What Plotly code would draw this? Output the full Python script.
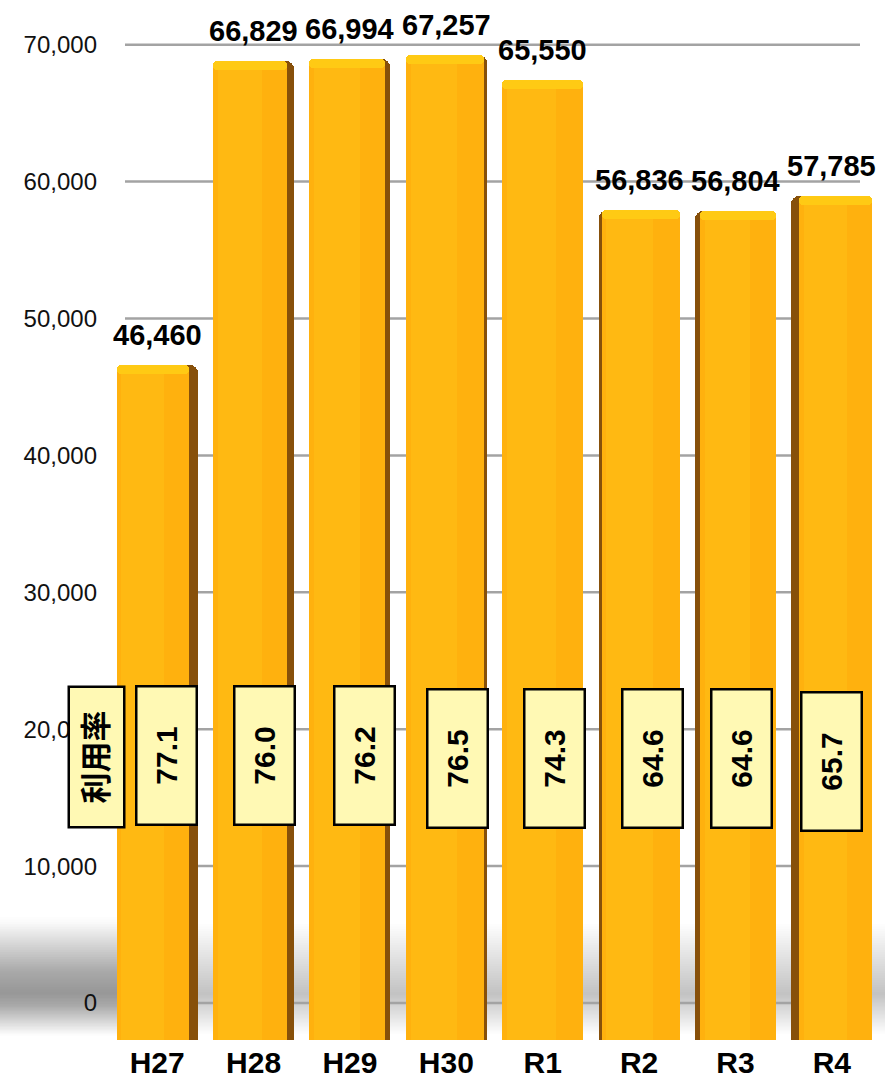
import plotly.graph_objects as go

# ---- data ----
years = ["H27", "H28", "H29", "H30", "R1", "R2", "R3", "R4"]
users = [46460, 66829, 66994, 67257, 65550, 56836, 56804, 57785]
rates = [77.1, 76.0, 76.2, 76.5, 74.3, 64.6, 64.6, 65.7]
rate_title = "利用率"
y_ticks = [0, 10000, 20000, 30000, 40000, 50000, 60000, 70000]

# ---- page geometry (px) ----
W, H = 885, 1078
ML, MR, MT, MB = 109, 5, 0, 38
PW, PH = W - ML - MR, H - MT - MB

def py_to_paper(py):
    return 1 - (py - MT) / PH

def px_to_paper(px):
    return (px - ML) / PW

# back wall (gridlines, tick labels): zero at 1003px, 136.9px per 10,000
wall_zero, wall_scale = 1003.0, 0.01369
wall_range = [-(PH - wall_zero) / wall_scale, wall_zero / wall_scale]
# front plane of the 3D columns: zero at 1057.5px, 149.06px per 10,000
bar_zero, bar_scale = 1057.5, 0.014906
bar_range = [(bar_zero - PH) / bar_scale, bar_zero / bar_scale]

FONT = "Liberation Sans, Arial, Noto Sans CJK JP, sans-serif"

# column look
FOOT = 0.84                                     # column footprint (category units)
side_px = [9, 7, 5, 3, 0, 3, 5, 8]              # visible side face width
side_on_right = [True, True, True, True, True, False, False, False]
side = [s / 96.4 for s in side_px]
face_off = [-FOOT / 2 if r else -FOOT / 2 + s for s, r in zip(side, side_on_right)]
face_w = [FOOT - s for s in side]
hl = 600                                        # depth of the bright top bevel

xs = list(range(len(years)))
fig = go.Figure()

# dark side face
fig.add_trace(go.Bar(
    x=xs, y=users, yaxis="y2", width=[FOOT] * len(xs), offset=[-FOOT / 2] * len(xs),
    marker=dict(color="#87500a", line=dict(width=0), cornerradius=8),
    hoverinfo="skip", showlegend=False))
# front face
fig.add_trace(go.Bar(
    x=xs, y=users, yaxis="y2", width=face_w, offset=face_off,
    marker=dict(color="#FFB10E", line=dict(width=0), cornerradius=8),
    hovertemplate="%{y:,}<extra></extra>", showlegend=False))
# soft sheen on the left part of the face
fig.add_trace(go.Bar(
    x=xs, y=[u - hl for u in users], yaxis="y2",
    width=[w * 0.6 for w in face_w], offset=[o + w * 0.06 for o, w in zip(face_off, face_w)],
    marker=dict(color="#FFB912", line=dict(width=0)),
    hoverinfo="skip", showlegend=False))
# bright top bevel
fig.add_trace(go.Bar(
    x=xs, y=[hl] * len(xs), base=[u - hl for u in users], yaxis="y2",
    width=face_w, offset=face_off,
    marker=dict(color="#FFCA14", line=dict(width=0), cornerradius=8),
    hoverinfo="skip", showlegend=False))

shapes = []

def haze(x0, x1, centre, up, down, layers, op):
    """Soft horizontal shadow band built from stacked translucent rectangles."""
    for k in range(layers):
        f = 1 - k / layers
        shapes.append(dict(
            type="rect", xref="paper", yref="paper", layer="below",
            x0=px_to_paper(x0), x1=px_to_paper(x1),
            y0=py_to_paper(centre + down * f), y1=py_to_paper(centre - up * f),
            fillcolor="#303030", opacity=op, line=dict(width=0)))

# floor shadow: light band across the floor, heavier on the far left
haze(0, W, 994, 70, 40, 30, 0.006)
haze(0, 118, 992, 75, 44, 30, 0.012)

# gridlines on the back wall
for t in y_ticks:
    shapes.append(dict(
        type="line", xref="paper", yref="y", layer="below",
        x0=px_to_paper(125), x1=px_to_paper(860), y0=t, y1=t,
        line=dict(color="#a3a3a3", width=2.5)))

annotations = []
# value labels above the columns
for i, u in enumerate(users):
    annotations.append(dict(
        x=i, y=u, xref="x", yref="y2", text=f"{u:,}", showarrow=False,
        xanchor="center", yanchor="bottom", yshift=12,
        font=dict(family=FONT, size=29, color="#000", weight="bold")))

# utilisation-rate boxes
box_cx = [166, 264, 364, 457, 554, 652, 741, 831]
box_cy = [756, 756, 756, 759, 759, 759, 759, 762]
for r, cx, cy in zip(rates, box_cx, box_cy):
    annotations.append(dict(
        x=px_to_paper(cx), y=py_to_paper(cy), xref="paper", yref="paper",
        xanchor="center", yanchor="middle",
        text=f"{r:.1f}", showarrow=False, textangle=-90,
        width=136, height=58, borderpad=0, borderwidth=2.5,
        bgcolor="#FFF9B4", bordercolor="#000",
        font=dict(family=FONT, size=30, color="#000", weight="bold")))
annotations.append(dict(
    x=px_to_paper(96.5), y=py_to_paper(757), xref="paper", yref="paper",
    xanchor="center", yanchor="middle",
    text=rate_title, showarrow=False, textangle=-90,
    width=138, height=53, borderpad=0, borderwidth=2.5,
    bgcolor="#FFF9B4", bordercolor="#000",
    font=dict(family=FONT, size=31, color="#000", weight="bold")))

fig.update_layout(
    width=W, height=H,
    margin=dict(l=ML, r=MR, t=MT, b=MB, pad=0, autoexpand=False),
    paper_bgcolor="#ffffff", plot_bgcolor="rgba(0,0,0,0)",
    barmode="overlay", bargap=0,
    showlegend=False,
    font=dict(family=FONT, color="#000"),
    xaxis=dict(
        range=[-0.5, len(years) - 0.5], tickmode="array", tickvals=xs, ticktext=years,
        showgrid=False, zeroline=False, showline=False, ticks="", automargin=False,
        tickfont=dict(family=FONT, size=30, color="#000", weight="bold"),
        ticklabelstandoff=2),
    yaxis=dict(
        range=wall_range, tickmode="array", tickvals=y_ticks,
        ticktext=[f"{t:,}" for t in y_ticks], automargin=False,
        showgrid=False, zeroline=False, showline=False, ticks="",
        tickfont=dict(family=FONT, size=24, color="#111"),
        ticklabelstandoff=11),
    yaxis2=dict(
        range=bar_range, overlaying="y", visible=False,
        showgrid=False, zeroline=False),
    shapes=shapes,
    annotations=annotations,
)

fig.write_html("out.html")
